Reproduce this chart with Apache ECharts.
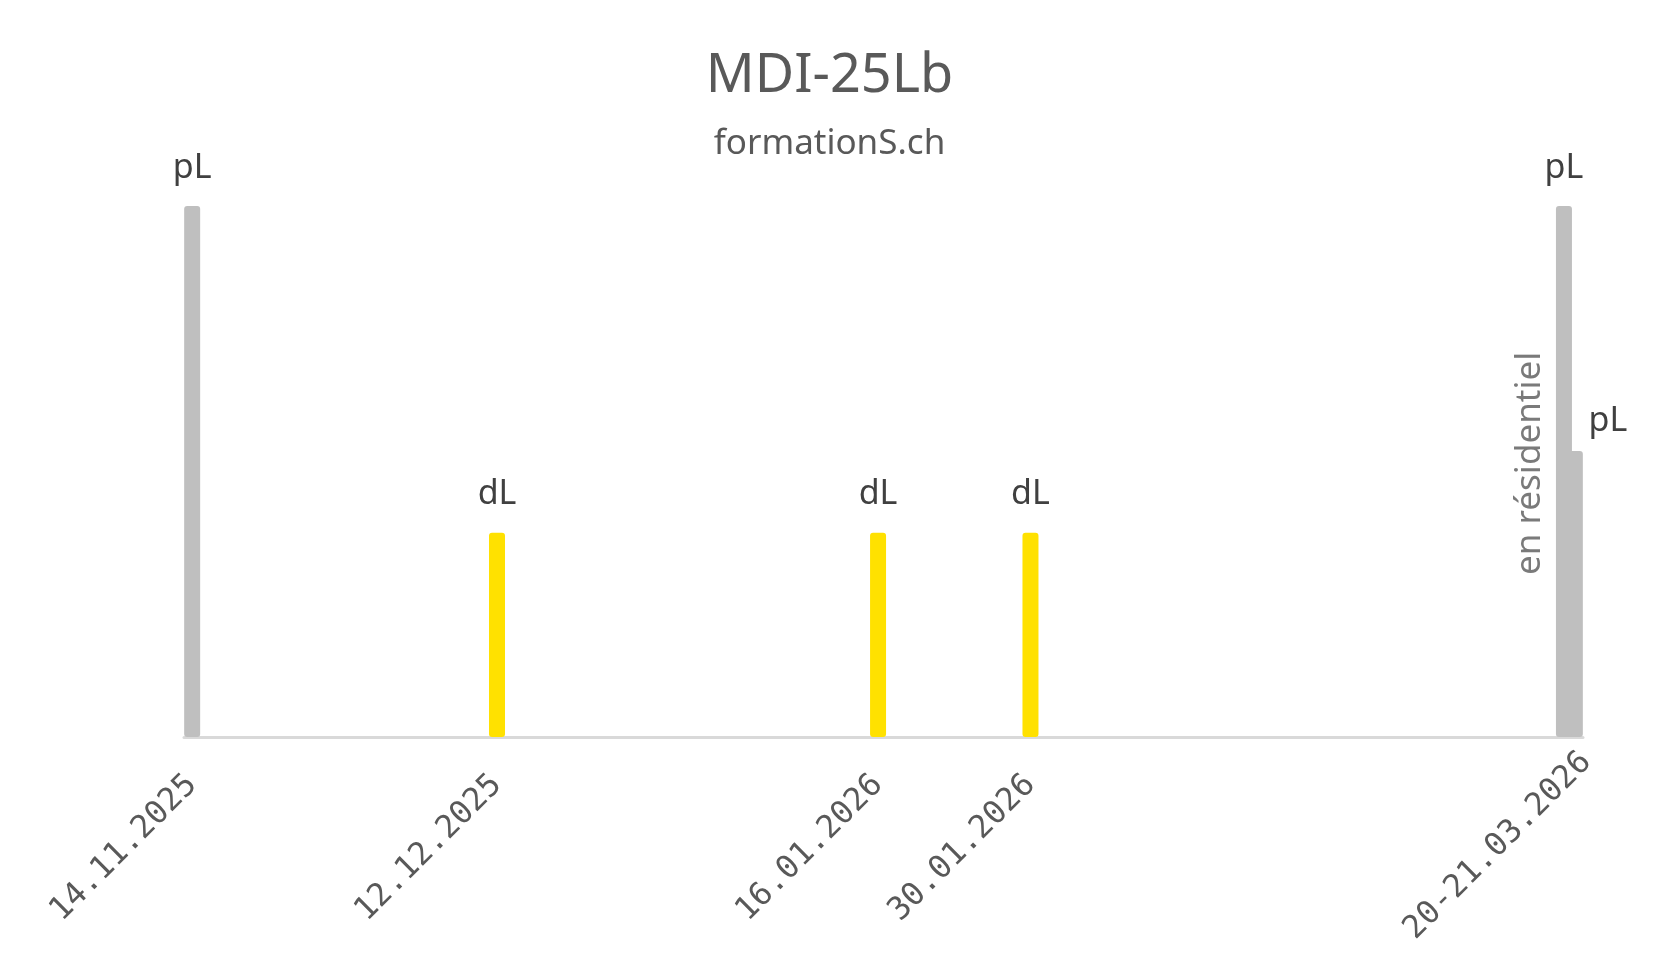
<!DOCTYPE html>
<html>
<head>
<meta charset="utf-8">
<script src="https://cdn.jsdelivr.net/npm/echarts@6/dist/echarts.min.js"></script>
<style>
html,body{margin:0;padding:0;background:#fff;}
#chart{width:1659px;height:962px;}
</style>
</head>
<body>
<div id="chart"></div>
<script>
// ---- data ----
const titleText = 'MDI-25Lb';
const subtitleText = 'formationS.ch';
const barDates = ['2025-11-14', '2025-12-12', '2026-01-16', '2026-01-30', '2026-03-21', '2026-03-20'];
const barKinds = ['pL', 'dL', 'dL', 'dL', 'pL', 'pL'];
const barValues = [1.3, 0.5, 0.5, 0.5, 0.7, 1.3];
const tickDates = ['2025-11-14', '2025-12-12', '2026-01-16', '2026-01-30', '2026-03-20'];
const tickLabels = ['14.11.2025', '12.12.2025', '16.01.2026', '30.01.2026', '20-21.03.2026'];
const noteText = 'en résidentiel';
const noteDate = '2026-03-20';
const noteValue = 0.67;
const yMax = 1.3;

// ---- helpers ----
const DAY = 86400000;
function parseDate(s) { const p = s.split('-'); return Date.UTC(+p[0], +p[1] - 1, +p[2]); }
const kindColor = { pL: '#bfbfbf', dL: '#ffe100' };
const tickTs = tickDates.map(parseDate);
const labelByTs = {};
tickTs.forEach((t, i) => { labelByTs[t] = tickLabels[i]; });
const allTs = barDates.map(parseDate);
const minTs = Math.min.apply(null, allTs) - 0.75 * DAY;
const maxTs = Math.max.apply(null, allTs) + 0.75 * DAY;
const longestLen = Math.max.apply(null, tickLabels.map(s => s.length));

const barData = barDates.map((d, i) => {
  const item = {
    value: [parseDate(d), barValues[i]],
    itemStyle: { color: kindColor[barKinds[i]] },
    label: { formatter: barKinds[i] }
  };
  if (barDates[i] === '2026-03-21') {
    item.label.offset = [33, 8];
  }
  return item;
});

const chart = echarts.init(document.getElementById('chart'), null, { renderer: 'canvas' });
const font = '"Noto Sans", sans-serif';
chart.setOption({
  backgroundColor: '#ffffff',
  animation: false,
  title: [
    { text: titleText, left: 'center', top: 42, textStyle: { fontFamily: font, fontSize: 54, fontWeight: 'normal', color: '#595959', lineHeight: 60 } },
    { text: subtitleText, left: 'center', top: 119, textStyle: { fontFamily: font, fontSize: 35, fontWeight: 'normal', color: '#595959', lineHeight: 40 } }
  ],
  grid: { left: 184, right: 76, top: 206, bottom: 225, containLabel: false },
  xAxis: {
    type: 'value',
    min: minTs,
    max: maxTs,
    axisLine: { show: true, onZero: false, lineStyle: { color: '#d9d9d9', width: 3 } },
    axisTick: { show: false },
    splitLine: { show: false },
    axisLabel: {
      customValues: tickTs,
      rotate: 45,
      margin: 43,
      color: '#595959',
      fontFamily: '"DejaVu Sans Mono", monospace',
      fontSize: 32,
      formatter: function (v) {
        const t = labelByTs[v] || '';
        // Excel centres rotated labels, so longer labels reach further along their direction
        return t.length === longestLen && t.length > 10 ? '{l|' + t + '}' : t;
      },
      rich: {
        l: { padding: [0, -32, 0, 0], color: '#595959', fontFamily: '"DejaVu Sans Mono", monospace', fontSize: 32 }
      }
    }
  },
  yAxis: { type: 'value', min: 0, max: yMax, show: false, splitLine: { show: false } },
  series: [
    {
      type: 'bar',
      data: barData,
      barWidth: 16,
      itemStyle: { borderRadius: 3 },
      label: { show: true, position: 'top', distance: 21, color: '#404040', fontFamily: font, fontSize: 34 }
    },
    {
      type: 'scatter',
      symbolSize: 0,
      data: [[parseDate(noteDate), noteValue]],
      label: { show: true, position: 'inside', formatter: noteText, rotate: 90, offset: [0, -34], color: '#595959', fontFamily: font, fontSize: 35 }
    }
  ]
});
</script>
</body>
</html>
